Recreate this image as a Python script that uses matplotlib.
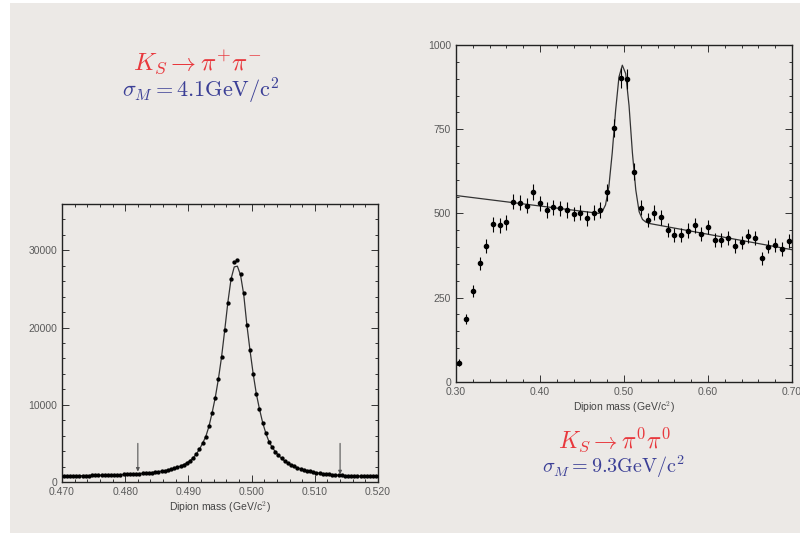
import numpy as np
import matplotlib
matplotlib.use("Agg")
import matplotlib.pyplot as plt
from matplotlib.patches import Rectangle
from matplotlib.ticker import MultipleLocator, FormatStrFormatter

# --- left panel: K_S -> pi+ pi-, 0.0005 GeV bins -------------------------
left_start = 0.47025
left_step = 0.0005
counts_left = [
    790, 800, 790, 810, 820, 815, 830, 840, 835, 850,
    860, 870, 875, 890, 900, 910, 930, 940, 960, 975,
    990, 1010, 1040, 1060, 1090, 1120, 1150, 1190, 1230, 1280,
    1340, 1400, 1470, 1560, 1660, 1770, 1900, 2060, 2250, 2480,
    2760, 3120, 3620, 4240, 5020, 5880, 7200, 8950, 10930, 13360,
    16210, 19680, 23180, 26290, 28440, 28790, 26980, 24470, 20360, 17030,
    14010, 11410, 9430, 7690, 6320, 5230, 4500, 3930, 3450, 3050,
    2720, 2450, 2220, 2020, 1850, 1700, 1570, 1460, 1360, 1280,
    1200, 1140, 1080, 1030, 990, 950, 910, 880, 850, 830,
    810, 790, 780, 770, 760, 750, 745, 740, 735, 730,
]
# fit follows the data except right at the top of the peak
fit_left = list(counts_left)
fit_left[52:58] = [23300, 26300, 27850, 27950, 26800, 24300]
arrows_left = [0.482, 0.514]
arrow_tips = [1350, 1000]

# --- right panel: K_S -> pi0 pi0, 0.008 GeV bins --------------------------
right_start = 0.304
right_step = 0.008
counts_right = [
    56, 185, 270, 352, 403, 468, 465, 474, 535, 532,
    523, 564, 530, 510, 518, 515, 510, 498, 502, 485,
    502, 510, 562, 754, 901, 898, 624, 517, 480, 502,
    488, 450, 436, 435, 449, 465, 438, 460, 421, 421,
    426, 403, 414, 434, 426, 366, 401, 406, 394, 418,
]
errors_right = [
    10, 15, 17, 19, 20, 22, 22, 22, 23, 23,
    23, 24, 23, 23, 23, 23, 23, 22, 22, 22,
    22, 23, 24, 27, 30, 30, 25, 23, 22, 22,
    22, 21, 21, 21, 21, 22, 21, 21, 21, 21,
    21, 20, 20, 21, 21, 19, 20, 20, 20, 20,
]
fit_right_x = [0.300, 0.470, 0.474, 0.478, 0.482, 0.486, 0.490, 0.494, 0.498,
               0.502, 0.506, 0.510, 0.514, 0.518, 0.522, 0.526, 0.530, 0.700]
fit_right_y = [553, 500, 505, 525, 580, 680, 805, 905, 940,
               915, 820, 680, 570, 505, 482, 474, 470, 392]

x_left = left_start + left_step * np.arange(len(counts_left))
x_right = right_start + right_step * np.arange(len(counts_right))

plt.rcParams["font.family"] = ["Liberation Sans", "DejaVu Sans"]
plt.rcParams["mathtext.fontset"] = "cm"

bg = "#ece9e6"
tick_grey = "#5a5a5a"
red = "#e8383d"
blue = "#3b3f96"

fig = plt.figure(figsize=(8, 5.33), dpi=100, facecolor="white")
fig.patches.append(Rectangle((10 / 800, 0), 1, 1 - 3 / 533, transform=fig.transFigure,
                             facecolor=bg, edgecolor="none", zorder=-10))


def style_axes(ax, xmajor, xminor, ymajor, yminor, xfmt):
    ax.set_facecolor("none")
    ax.xaxis.set_major_locator(MultipleLocator(xmajor))
    ax.xaxis.set_minor_locator(MultipleLocator(xminor))
    ax.yaxis.set_major_locator(MultipleLocator(ymajor))
    ax.yaxis.set_minor_locator(MultipleLocator(yminor))
    ax.xaxis.set_major_formatter(FormatStrFormatter(xfmt))
    ax.tick_params(which="both", direction="in", top=True, right=True,
                   colors="#333333", labelcolor=tick_grey, labelsize=7.5, width=0.7)
    ax.tick_params(which="major", length=5)
    ax.tick_params(which="minor", length=2.5)
    for s in ax.spines.values():
        s.set_linewidth(1.0)
        s.set_color("#222222")
    ax.set_xlabel("Dipion mass (GeV/c$^2$)", fontsize=7.5, color="#444444", labelpad=2)


# left
ax1 = fig.add_axes([62 / 800, 1 - 482 / 533, 316 / 800, 278 / 533])
ax1.plot(x_left, fit_left, color="#333333", lw=0.9, zorder=2)
ax1.plot(x_left, counts_left, "o", color="black", ms=2.1, zorder=3)
for xa, ya in zip(arrows_left, arrow_tips):
    ax1.annotate("", xy=(xa, ya), xytext=(xa, 5000),
                 arrowprops=dict(arrowstyle="-|>", color="#555555", lw=0.8,
                                 mutation_scale=5, shrinkA=0, shrinkB=0))
ax1.set_xlim(0.470, 0.520)
ax1.set_ylim(0, 36000)
style_axes(ax1, 0.010, 0.002, 10000, 2000, "%.3f")

# right
ax2 = fig.add_axes([456 / 800, 1 - 381.7 / 533, 336 / 800, 336.7 / 533])
ax2.plot(fit_right_x, fit_right_y, color="#333333", lw=0.9, zorder=2)
ax2.errorbar(x_right, counts_right, yerr=errors_right, fmt="o", color="black",
             ms=3.0, elinewidth=0.8, capsize=0, zorder=3)
ax2.set_xlim(0.30, 0.70)
ax2.set_ylim(0, 1000)
style_axes(ax2, 0.10, 0.02, 250, 50, "%.2f")

# titles
fig.text(197 / 800, 1 - 62 / 533, r"$K_S \rightarrow \pi^{+}\pi^{-}$", color=red,
         fontsize=18, ha="center", va="center")
fig.text(201 / 800, 1 - 91 / 533, r"$\sigma_M = 4.1\mathrm{GeV/c^2}$", color=blue,
         fontsize=16, ha="center", va="center")
fig.text(615 / 800, 1 - 440 / 533, r"$K_S \rightarrow \pi^{0}\pi^{0}$", color=red,
         fontsize=17, ha="center", va="center")
fig.text(614 / 800, 1 - 467 / 533, r"$\sigma_M = 9.3\mathrm{GeV/c^2}$", color=blue,
         fontsize=14.5, ha="center", va="center")

fig.savefig("out.png", dpi=100, facecolor=fig.get_facecolor())
